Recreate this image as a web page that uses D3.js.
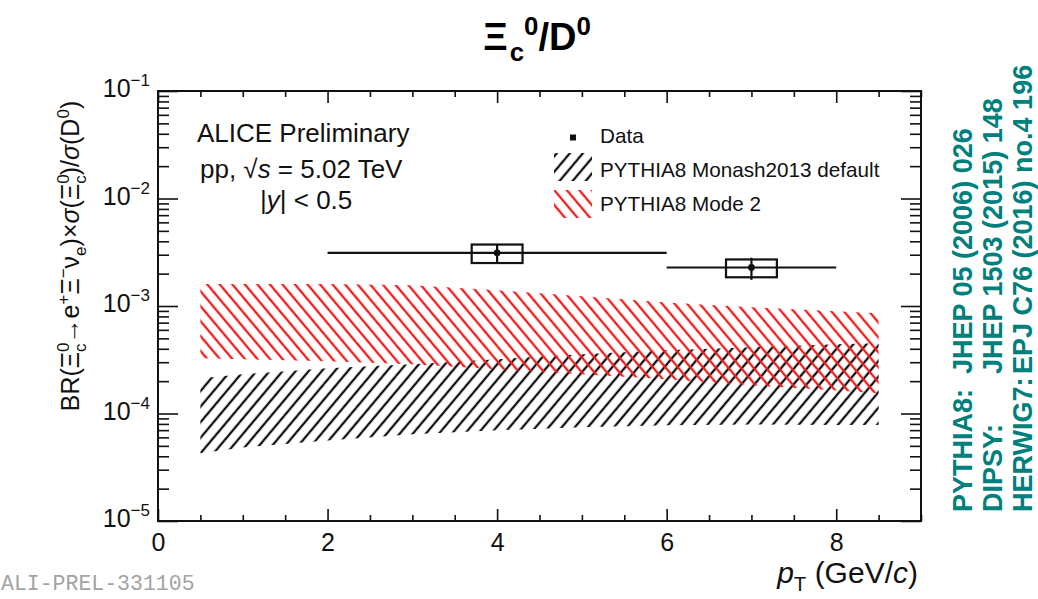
<!DOCTYPE html>
<html>
<head>
<meta charset="utf-8">
<script src="https://cdn.jsdelivr.net/npm/d3@7"></script>
<style>
  html, body { margin: 0; padding: 0; background: #fff; }
  svg { display: block; font-family: "Liberation Sans", Arial, Helvetica, sans-serif; }
</style>
</head>
<body>
<svg id="chart" width="1038" height="599"></svg>
<script>
// ---- data ----
const modelPt   = [0.5, 1, 2, 3, 4, 5, 6, 7, 8, 8.5];
const monashHi  = [2.13e-4, 2.32e-4, 2.64e-4, 2.87e-4, 3.20e-4, 3.56e-4, 3.88e-4, 4.13e-4, 4.41e-4, 4.51e-4];
const monashLo  = [4.26e-5, 4.84e-5, 5.62e-5, 6.40e-5, 6.98e-5, 7.44e-5, 7.77e-5, 7.90e-5, 7.80e-5, 7.80e-5];
const mode2Hi   = [1.60e-3, 1.60e-3, 1.60e-3, 1.56e-3, 1.40e-3, 1.23e-3, 1.08e-3, 9.75e-4, 8.95e-4, 8.57e-4];
const mode2Lo   = [3.27e-4, 3.20e-4, 3.06e-4, 2.87e-4, 2.58e-4, 2.32e-4, 2.08e-4, 1.83e-4, 1.64e-4, 1.54e-4];

const dataPt    = [4, 7];
const dataPtLo  = [2, 6];
const dataPtHi  = [6, 8];
const dataVal   = [3.12e-3, 2.28e-3];
const dataStat  = [0.60e-3, 0.53e-3];
const dataSys   = [0.61e-3, 0.43e-3];

const xMajorTicks = [0, 2, 4, 6, 8];
const yMajorTicks = [1e-5, 1e-4, 1e-3, 1e-2, 1e-1];

const refLabels = ["PYTHIA8:", "DIPSY:", "HERWIG7:"];
const refTexts  = ["JHEP 05 (2006) 026", "JHEP 1503 (2015) 148", "EPJ C76 (2016) no.4 196"];

// ---- layout ----
const svg = d3.select("#chart");
const L = 158, R = 921, T = 91, B = 521;
const x = d3.scaleLinear().domain([0, 9]).range([L, R]);
const y = d3.scaleLog().domain([1e-5, 1e-1]).range([B, T]);
const sysHalfWidth = 0.3;

const xMinorTicks = d3.range(0, 9.001, 0.5).filter(v => v % 2 !== 0);
const yMinorTicks = [];
for (let e = -5; e < -1; e++) for (let k = 2; k <= 9; k++) yMinorTicks.push(k * Math.pow(10, e));

// ---- hatch patterns ----
const defs = svg.append("defs");
function hatch(id, color, spacing, angle) {
  const p = defs.append("pattern").attr("id", id)
    .attr("patternUnits", "userSpaceOnUse")
    .attr("width", spacing).attr("height", spacing)
    .attr("patternTransform", `rotate(${angle})`);
  p.append("line").attr("x1", spacing / 2).attr("x2", spacing / 2)
    .attr("y1", -1).attr("y2", spacing + 1)
    .attr("stroke", color).attr("stroke-width", 2.3);
}
hatch("hatchMonash", "#111", 10, 40);
hatch("hatchMode2", "#ee1c1c", 9.6, -40);

// ---- model bands ----
const band = d3.area().x(d => x(d.pt)).y0(d => y(d.lo)).y1(d => y(d.hi));
const monash = modelPt.map((pt, i) => ({ pt, lo: monashLo[i], hi: monashHi[i] }));
const mode2  = modelPt.map((pt, i) => ({ pt, lo: mode2Lo[i], hi: mode2Hi[i] }));
svg.append("path").datum(monash).attr("d", band).attr("fill", "url(#hatchMonash)");
svg.append("path").datum(mode2).attr("d", band).attr("fill", "url(#hatchMode2)");

// ---- axes (ticks point inwards, mirrored on top/right) ----
function styleAxis(g) {
  g.select(".domain").remove();
  g.selectAll(".tick line").attr("stroke", "#111").attr("stroke-width", 1.6);
}
svg.append("g").attr("transform", `translate(0,${B})`)
  .call(d3.axisBottom(x).tickValues(xMinorTicks).tickSize(-6).tickFormat("")).call(styleAxis);
svg.append("g").attr("transform", `translate(0,${T})`)
  .call(d3.axisTop(x).tickValues(xMinorTicks).tickSize(-6).tickFormat("")).call(styleAxis);
svg.append("g").attr("transform", `translate(0,${T})`)
  .call(d3.axisTop(x).tickValues(xMajorTicks).tickSize(-12).tickFormat("")).call(styleAxis);
const xAxis = svg.append("g").attr("transform", `translate(0,${B})`)
  .call(d3.axisBottom(x).tickValues(xMajorTicks).tickSize(-12).tickPadding(12).tickFormat(d3.format("d")))
  .call(styleAxis);
xAxis.selectAll(".tick text").attr("font-size", 25).attr("fill", "#111")
  .attr("font-family", "'Liberation Sans', Arial, sans-serif");

svg.append("g").attr("transform", `translate(${L},0)`)
  .call(d3.axisLeft(y).tickValues(yMinorTicks).tickSize(-11).tickFormat("")).call(styleAxis);
svg.append("g").attr("transform", `translate(${R},0)`)
  .call(d3.axisRight(y).tickValues(yMinorTicks).tickSize(-11).tickFormat("")).call(styleAxis);
svg.append("g").attr("transform", `translate(${R},0)`)
  .call(d3.axisRight(y).tickValues(yMajorTicks).tickSize(-20).tickFormat("")).call(styleAxis);
const yAxis = svg.append("g").attr("transform", `translate(${L},0)`)
  .call(d3.axisLeft(y).tickValues(yMajorTicks).tickSize(-20).tickPadding(8).tickFormat(d => d))
  .call(styleAxis);
yAxis.selectAll(".tick text").each(function (d) {
  const t = d3.select(this);
  const exp = Math.round(Math.log10(d));
  t.text("10").attr("font-size", 25).attr("fill", "#111").attr("dy", "0.22em")
    .attr("font-family", "'Liberation Sans', Arial, sans-serif");
  t.append("tspan").attr("dy", "-0.62em").attr("font-size", "0.68em").text("\u2212" + Math.abs(exp));
});

// frame
svg.append("rect").attr("x", L).attr("y", T).attr("width", R - L).attr("height", B - T)
  .attr("fill", "none").attr("stroke", "#111").attr("stroke-width", 2);

// ---- data points ----
const dg = svg.append("g").attr("stroke", "#111").attr("stroke-width", 2.2).attr("fill", "none");
dataPt.forEach((pt, i) => {
  dg.append("line").attr("x1", x(dataPtLo[i])).attr("x2", x(dataPtHi[i]))
    .attr("y1", y(dataVal[i])).attr("y2", y(dataVal[i]));
  dg.append("rect").attr("x", x(pt - sysHalfWidth)).attr("width", x(pt + sysHalfWidth) - x(pt - sysHalfWidth))
    .attr("y", y(dataVal[i] + dataSys[i])).attr("height", y(dataVal[i] - dataSys[i]) - y(dataVal[i] + dataSys[i]));
  dg.append("line").attr("x1", x(pt)).attr("x2", x(pt))
    .attr("y1", y(dataVal[i] + dataStat[i])).attr("y2", y(dataVal[i] - dataStat[i]));
  svg.append("circle").attr("cx", x(pt)).attr("cy", y(dataVal[i])).attr("r", 3.4).attr("fill", "#111");
});

// ---- rich text helper: parts = [text, mode, extra] with mode n / sup / sub ----
function rich(sel, parts, fs) {
  let shift = 0;
  parts.forEach(p => {
    const [txt, mode, extra] = p;
    const target = mode === "sup" ? -0.4 * fs : mode === "sub" ? 0.28 * fs : 0;
    const ts = sel.append("tspan").attr("dy", target - shift).text(txt);
    shift = target;
    if (mode === "sup" || mode === "sub") ts.attr("font-size", fs * 0.68);
    if (extra && extra.italic) ts.attr("font-style", "italic");
    if (extra && extra.dx) ts.attr("dx", extra.dx);
  });
}

// title
const title = svg.append("text").attr("x", 537).attr("y", 50).attr("text-anchor", "middle")
  .attr("font-size", 38).attr("font-weight", "bold").attr("fill", "#000");
rich(title, [["\u039E", "n"], ["c", "sub", { dx: 2 }], ["0", "sup"], ["/D", "n"], ["0", "sup"]], 38);

// y axis title
const yFs = 25;
const yt = svg.append("text").attr("transform", "translate(79,256) rotate(-90)")
  .attr("text-anchor", "middle").attr("font-size", yFs).attr("fill", "#111");
const sd = -0.556 * 0.68 * yFs;
rich(yt, [
  ["BR(\u039E", "n"], ["0", "sup"], ["c", "sub", { dx: sd }], ["\u2192e", "n"], ["+", "sup"],
  ["\u039E", "n"], ["\u2212", "sup"], ["\u03BD", "n"], ["e", "sub"], [")\u00D7", "n"],
  ["\u03C3", "n", { italic: true }], ["(\u039E", "n"], ["0", "sup"], ["c", "sub", { dx: sd }],
  [")/", "n"], ["\u03C3", "n", { italic: true }], ["(D", "n"], ["0", "sup"], [")", "n"]
], yFs);

// x axis title
const xt = svg.append("text").attr("x", 918).attr("y", 583).attr("text-anchor", "end")
  .attr("font-size", 30).attr("fill", "#111");
rich(xt, [["p", "n", { italic: true }], ["T", "sub"], [" (GeV/", "n"], ["c", "n", { italic: true }], [")", "n"]], 30);

// ---- ALICE labels ----
const info = svg.append("g").attr("font-size", 26).attr("fill", "#111");
info.append("text").attr("x", 197).attr("y", 142).text("ALICE Preliminary");
const l2 = info.append("text").attr("x", 200).attr("y", 178);
rich(l2, [["pp, \u221A", "n"], ["s", "n", { italic: true }], [" = 5.02 TeV", "n"]], 26);
const l3 = info.append("text").attr("x", 260).attr("y", 209);
rich(l3, [["|", "n"], ["y", "n", { italic: true }], ["| < 0.5", "n"]], 26);

// ---- legend ----
const lg = svg.append("g").attr("font-size", 20.7).attr("fill", "#111");
lg.append("rect").attr("x", 570).attr("y", 134.5).attr("width", 6).attr("height", 6).attr("fill", "#111");
lg.append("text").attr("x", 600).attr("y", 143).text("Data");
lg.append("rect").attr("x", 554).attr("y", 153).attr("width", 38).attr("height", 28).attr("fill", "url(#hatchMonash)");
lg.append("text").attr("x", 600).attr("y", 177).text("PYTHIA8 Monash2013 default");
lg.append("rect").attr("x", 554).attr("y", 190).attr("width", 38).attr("height", 28).attr("fill", "url(#hatchMode2)");
lg.append("text").attr("x", 600).attr("y", 211).text("PYTHIA8 Mode 2");

// ---- generator references ----
const refX = [972, 1002, 1032];
refLabels.forEach((lab, i) => {
  const g = svg.append("g").attr("transform", `translate(${refX[i]},512) rotate(-90)`)
    .attr("font-size", 27).attr("font-weight", "bold").attr("fill", "#00807c");
  g.append("text").attr("x", 0).attr("y", 0).text(lab);
  g.append("text").attr("x", 138).attr("y", 0).text(refTexts[i]);
});

// ---- preliminary figure id ----
svg.append("text").attr("x", 1).attr("y", 590).attr("font-size", 21.5)
  .attr("font-family", "'Liberation Mono', 'Courier New', monospace")
  .attr("fill", "#a3a3a3").text("ALI-PREL-331105");
</script>
</body>
</html>
